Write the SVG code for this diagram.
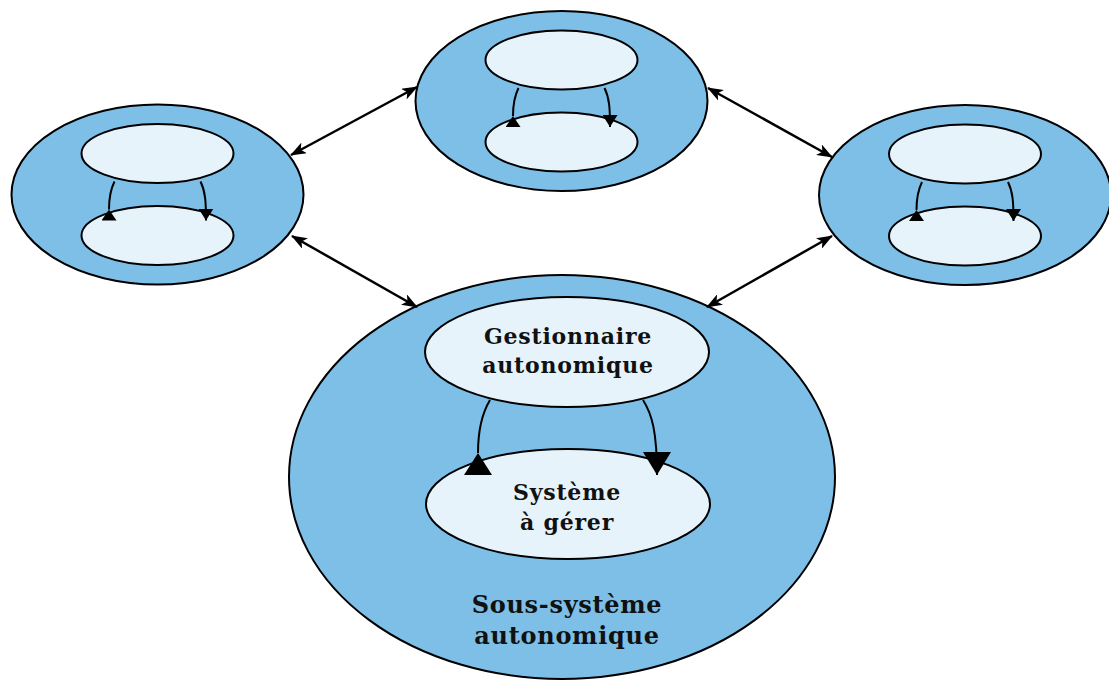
<svg xmlns="http://www.w3.org/2000/svg" width="1109" height="682" viewBox="0 0 1109 682">
<style>
.outer{fill:#7dbfe7;stroke:#000;stroke-width:2}
.inner{fill:#e6f3fa;stroke:#000;stroke-width:2}
.loop{fill:none;stroke:#000;stroke-width:2}
.link{fill:none;stroke:#000;stroke-width:2.5}
.lbl{font-family:"DejaVu Serif","Liberation Serif",serif;font-weight:bold;font-size:22px;letter-spacing:0.8px;fill:#111;text-anchor:middle}
.big{font-size:24px;letter-spacing:0.7px}
</style>
<defs>
<marker id="dbl" markerUnits="userSpaceOnUse" viewBox="0 0 16 12" refX="15" refY="6" markerWidth="16" markerHeight="12" orient="auto-start-reverse">
<path d="M0,0 L16,6 L0,12 L4,6 Z" fill="#000"/>
</marker>
<marker id="sUp" markerUnits="userSpaceOnUse" viewBox="0 0 11 15" refX="0" refY="7.5" markerWidth="11" markerHeight="15" orient="auto">
<path d="M0,7.5 L11,0 L11,15 Z" fill="#000"/>
</marker>
<marker id="sDn" markerUnits="userSpaceOnUse" viewBox="0 0 12 15" refX="12" refY="7.5" markerWidth="12" markerHeight="15" orient="auto">
<path d="M0,0 L12,7.5 L0,15 Z" fill="#000"/>
</marker>
<marker id="bUp" markerUnits="userSpaceOnUse" viewBox="0 0 22 28" refX="0" refY="14" markerWidth="22" markerHeight="28" orient="auto">
<path d="M0,14 L22,0 L22,28 Z" fill="#000"/>
</marker>
<marker id="bDn" markerUnits="userSpaceOnUse" viewBox="0 0 23 28" refX="23" refY="14" markerWidth="23" markerHeight="28" orient="auto">
<path d="M0,0 L23,14 L0,28 Z" fill="#000"/>
</marker>
<g id="sat">
<ellipse class="outer" cx="0" cy="0" rx="146" ry="90"/>
<ellipse class="inner" cx="0" cy="-41" rx="76" ry="29.5"/>
<ellipse class="inner" cx="0" cy="41" rx="76" ry="29.5"/>
<path class="loop" d="M-43,-13 C-48,-3 -48.5,6 -48.5,15" marker-end="url(#sUp)"/>
<path class="loop" d="M43,-13 C48,-3 48.5,8 48.5,26" marker-end="url(#sDn)"/>
</g>
</defs>
<g id="node-left"><use href="#sat" x="157.5" y="194.5"/></g>
<g id="node-top"><use href="#sat" x="561.5" y="101"/></g>
<g id="node-right"><use href="#sat" x="965" y="195"/></g>
<g id="node-main">
<ellipse class="outer" cx="562" cy="477" rx="273" ry="202"/>
<ellipse class="inner" cx="567" cy="352" rx="142" ry="55"/>
<ellipse class="inner" cx="568" cy="504" rx="142" ry="55"/>
<path class="loop" d="M490,400 C481,415 478,432 478,453" marker-end="url(#bUp)"/>
<path class="loop" d="M643,400 C652,414 657,432 657,475" marker-end="url(#bDn)"/>
<text class="lbl" x="568" y="344">Gestionnaire</text>
<text class="lbl" x="568" y="373">autonomique</text>
<text class="lbl" x="567" y="500">Système</text>
<text class="lbl" x="567" y="530">à gérer</text>
<text class="lbl big" x="567" y="613">Sous-système</text>
<text class="lbl big" x="567" y="644">autonomique</text>
</g>
<g id="connectors">
<path class="link" d="M291,155 L417,87" marker-start="url(#dbl)" marker-end="url(#dbl)"/>
<path class="link" d="M708,88 L832,157" marker-start="url(#dbl)" marker-end="url(#dbl)"/>
<path class="link" d="M292,236 L417,307" marker-start="url(#dbl)" marker-end="url(#dbl)"/>
<path class="link" d="M832,236 L707,307" marker-start="url(#dbl)" marker-end="url(#dbl)"/>
</g>
</svg>
